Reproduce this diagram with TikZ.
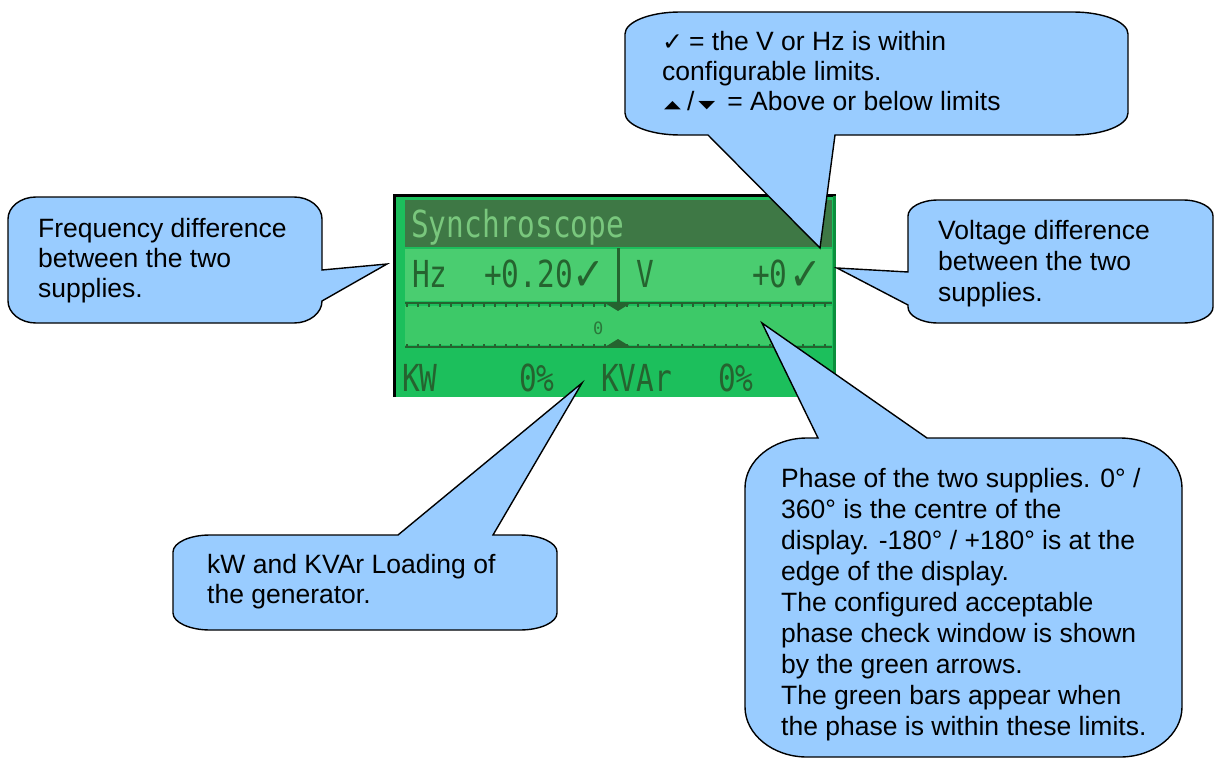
\documentclass[tikz,border=0pt]{standalone}
\usepackage{fontspec}
\usepackage{graphicx}
\setmainfont{Liberation Sans}
\newfontfamily\dejavu{DejaVu Sans}
\newfontfamily\lcdmono{DejaVu Sans Mono}
\definecolor{calloutblue}{HTML}{99CCFF}
\definecolor{lcdgreen}{HTML}{1CBF5C}
\definecolor{lcdlight}{HTML}{4ACD70}
\definecolor{lcdmid}{HTML}{3DC968}
\definecolor{lcdtitle}{HTML}{3E7845}
\definecolor{lcdtitletext}{HTML}{79C77D}
\definecolor{lcdink}{HTML}{25632F}
\definecolor{lcdedge}{HTML}{0B8F3C}
\newcommand\calltext[1]{\parbox[t]{560pt}{\raggedright #1}}
\newcommand\uptri{{\dejavu\fontsize{22}{22}\selectfont\raisebox{2pt}{\scalebox{1}[0.5]{▲}}}}
\newcommand\dntri{{\dejavu\fontsize{22}{22}\selectfont\raisebox{2pt}{\scalebox{1}[0.5]{▼}}}}
\newcommand\smallcheck{{\dejavu\fontsize{25}{25}\selectfont ✓}}
\newcommand\lcdcheck{{\dejavu\fontsize{46}{46}\selectfont\scalebox{0.85}[1]{✓}}}
\newcommand\lcdtall[1]{\scalebox{0.95}[1.2]{#1}}
\begin{document}
\begin{tikzpicture}[x=1pt,y=-1pt,
  callout/.style={fill=calloutblue, draw=black, line width=1.4pt, line join=miter},
  txt/.style={anchor=base west, inner sep=0pt, font=\fontsize{26.5}{30}\selectfont},
  txtwide/.style={txt, font=\fontsize{26.5}{31}\selectfont},
  lcdtxt/.style={anchor=base west, inner sep=0pt, text=lcdink, font=\lcdmono\fontsize{31}{31}\selectfont},
  lcdtick/.style={lcdink, line width=1.6pt},
]
\useasboundingbox (0,0) rectangle (1215,760);
\fill[white] (0,0) rectangle (1215,760);

% ---------------- LCD display ----------------
\fill[lcdgreen] (393,194) rectangle (835,397);
\fill[lcdtitle] (405,200) rectangle (832,247);
\fill[lcdlight] (405,249) rectangle (832,301);
\fill[lcdmid] (405,306) rectangle (832,345);
\draw[black, line width=3pt] (394.5,397) -- (394.5,195.5) -- (836,195.5);
\draw[lcdedge, line width=3pt] (834,195.5) -- (834,397);

\node[lcdtxt, text=lcdtitletext] (title) at (411,237) {\lcdtall{Synchroscope}};
\node[lcdtxt] (hz) at (412,287) {\lcdtall{Hz}};
\node[lcdtxt] (hzval) at (484,287) {\lcdtall{+0.20}};
\node[anchor=base west, inner sep=0pt, text=lcdink] (hzchk) at (572,290) {\lcdcheck};
\node[lcdtxt] (vlab) at (636,287) {\lcdtall{V}};
\node[lcdtxt] (vval) at (752,287) {\lcdtall{+0}};
\node[anchor=base west, inner sep=0pt, text=lcdink] (vchk) at (789,290) {\lcdcheck};
\draw[lcdink, line width=3pt] (618,248) -- (618,306);

% scale lines with ticks
\draw[lcdtick] (405,303) -- (832,303);
\draw[lcdink, line width=3pt, dash pattern=on 2pt off 9pt] (406,305) -- (832,305);
\draw[lcdtick] (405,347) -- (832,347);
\draw[lcdink, line width=3pt, dash pattern=on 2pt off 9pt] (406,345) -- (832,345);
\fill[lcdink] (605,303) -- (631,303) -- (618,311) -- cycle;
\fill[lcdink] (605,347) -- (631,347) -- (618,339) -- cycle;
\node[anchor=base west, inner sep=0pt, text=lcdink!80!lcdmid, font=\lcdmono\fontsize{17}{17}\selectfont] (zero) at (593,334) {0};

\node[lcdtxt] (kw) at (402,391) {\lcdtall{KW}};
\node[lcdtxt] (kwval) at (519,391) {\lcdtall{0\%}};
\node[lcdtxt] (kvar) at (601,391) {\lcdtall{KVAr}};
\node[lcdtxt] (kvarval) at (718,391) {\lcdtall{0\%}};

% ---------------- Callouts ----------------
% Frequency difference
\coordinate (tipfreq) at (387,264);
\draw[callout] (36,197) -- (294,197) .. controls (309.4,197) and (322,206.9) .. (322,219)
  -- (322,270) -- (tipfreq) -- (322,301)
  .. controls (322,313.1) and (309.4,323) .. (294,323) -- (36,323)
  .. controls (20.6,323) and (8,313.1) .. (8,301) -- (8,219)
  .. controls (8,206.9) and (20.6,197) .. (36,197) -- cycle;
\node[txt] (freqtext) at (38,237) {\calltext{Frequency difference\\between the two\\supplies.}};

% Tick / arrows legend
\coordinate (tiplegend) at (820,248);
\draw[callout] (680,12) -- (1073,12) .. controls (1103.25,12) and (1128,21.9) .. (1128,34)
  -- (1128,113) .. controls (1128,125.1) and (1103.25,135) .. (1073,135)
  -- (835,135) -- (tiplegend) -- (708,135) -- (680,135)
  .. controls (649.75,135) and (625,125.1) .. (625,113) -- (625,34)
  .. controls (625,21.9) and (649.75,12) .. (680,12) -- cycle;
\node[txt] (legendtext) at (662,51) {\calltext{\smallcheck\hspace{6pt}= the V or Hz is within\\configurable limits.\\\hspace{2pt}\uptri\hspace{6pt}/\hspace{4pt}\dntri\hspace{12pt}= Above or below limits}};

% Voltage difference
\coordinate (tipvolt) at (837,268);
\draw[callout] (938,200) -- (1183,200) .. controls (1199.5,200) and (1213,207.2) .. (1213,216)
  -- (1213,307) .. controls (1213,315.8) and (1199.5,323) .. (1183,323)
  -- (938,323) .. controls (921.5,323) and (908,315.8) .. (908,307)
  -- (908,305) -- (tipvolt) -- (908,272) -- (908,216)
  .. controls (908,207.2) and (921.5,200) .. (938,200) -- cycle;
\node[txtwide] (volttext) at (938,239) {\calltext{Voltage difference\\between the two\\supplies.}};

% Phase
\coordinate (tipphase) at (762,323);
\draw[callout] (807,438) -- (818,438) -- (tipphase) -- (927,438) -- (1120,438)
  .. controls (1154.1,438) and (1182,460.5) .. (1182,488) -- (1182,707)
  .. controls (1182,734.5) and (1154.1,757) .. (1120,757) -- (807,757)
  .. controls (772.9,757) and (745,734.5) .. (745,707) -- (745,488)
  .. controls (745,460.5) and (772.9,438) .. (807,438) -- cycle;
\node[txtwide] (phasetext) at (781,487) {\calltext{Phase of the two supplies. 0° /\\360° is the centre of the\\display. -180° / +180° is at the\\edge of the display.\\The configured acceptable\\phase check window is shown\\by the green arrows.\\The green bars appear when\\the phase is within these limits.}};

% kW / KVAr loading
\coordinate (tipload) at (582,383);
\draw[callout] (210,535) -- (398,535) -- (tipload) -- (493,535) -- (520,535)
  .. controls (540.35,535) and (557,542.65) .. (557,552) -- (557,613)
  .. controls (557,622.35) and (540.35,630) .. (520,630) -- (210,630)
  .. controls (189.65,630) and (173,622.35) .. (173,613) -- (173,552)
  .. controls (173,542.65) and (189.65,535) .. (210,535) -- cycle;
\node[txt] (loadtext) at (207,573) {\calltext{kW and KVAr Loading of\\the generator.}};
\end{tikzpicture}
\end{document}
